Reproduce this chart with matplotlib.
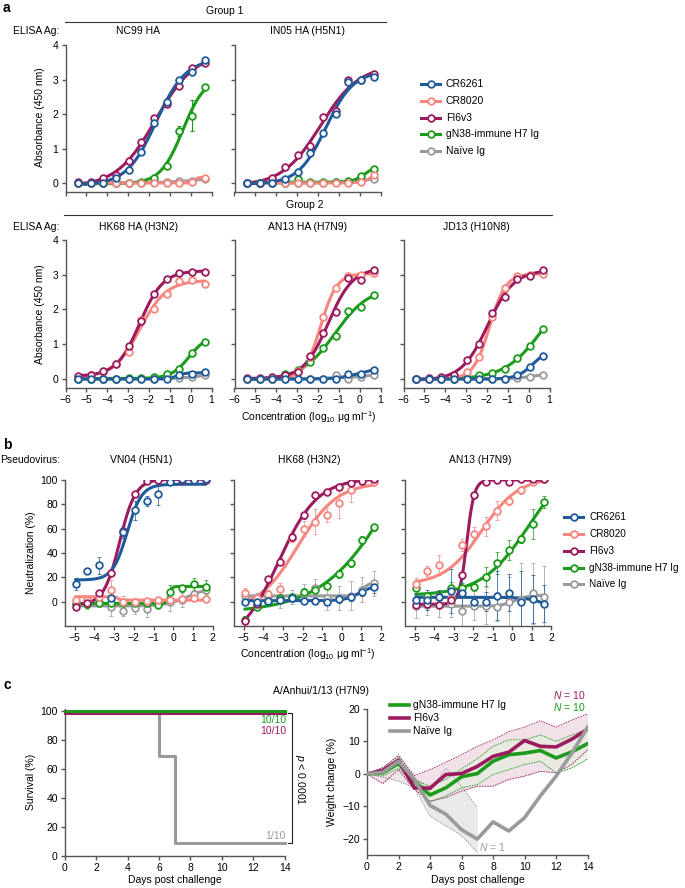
import numpy as np
import matplotlib
matplotlib.use('Agg')
import matplotlib.pyplot as plt
from matplotlib.lines import Line2D

plt.rcParams['font.family'] = ['Liberation Sans', 'DejaVu Sans']
plt.rcParams['mathtext.fontset'] = 'custom'
plt.rcParams['mathtext.rm'] = 'Liberation Sans'
plt.rcParams['mathtext.it'] = 'Liberation Sans:italic'
plt.rcParams['font.size'] = 7.5

# ---------------- data ----------------
SERIES = ['CR6261', 'CR8020', 'FI6v3', 'gN38-immune H7 Ig', 'Naïve Ig']
COLORS = {'CR6261': '#1f5b9b', 'CR8020': '#f7867f', 'FI6v3': '#9b1b5e',
          'gN38-immune H7 Ig': '#1b9a1b', 'Naïve Ig': '#9a9a9a'}
DRAW_ORDER = ['Naïve Ig', 'gN38-immune H7 Ig', 'CR8020', 'FI6v3', 'CR6261']

# Panel a: ELISA (log10 ug/ml)
A_X = [-5.4, -4.79, -4.18, -3.58, -2.97, -2.36, -1.75, -1.14, -0.54, 0.07, 0.68]
NC99 = {'CR6261': [0, 0, 0, 0.15, 0.39, 0.9, 1.75, 2.36, 2.99, 3.21, 3.57],
        'CR8020': [0, 0, 0, 0, 0, 0, 0, 0, 0, 0.03, 0.16],
        'FI6v3': [0.02, 0.02, 0.14, 0.24, 0.64, 1.2, 1.88, 2.29, 2.8, 3.34, 3.49],
        'gN38-immune H7 Ig': [0, 0, 0, 0, 0.01, 0.02, 0.15, 0.48, 1.51, 1.95, 2.78],
        'Naïve Ig': [0, 0, 0, 0, 0, 0.01, 0.02, 0.03, 0.05, 0.07, 0.12]}
NC99_GN38_ERR = [0, 0, 0, 0, 0, 0, 0, 0, 0.15, 0.45, 0]
IN05 = {'CR6261': [0, 0, 0, 0.12, 0.31, 0.87, 1.44, 1.99, 2.92, 3.0, 3.08],
        'CR8020': [0, 0, 0, 0, 0, 0, 0, 0, 0.01, 0.04, 0.23],
        'FI6v3': [0, 0, 0.16, 0.46, 0.81, 1.06, 1.92, 2.1, 3.0, 3.0, 3.16],
        'gN38-immune H7 Ig': [0, 0, 0, 0, 0.12, 0.02, 0.02, 0.03, 0.05, 0.19, 0.42],
        'Naïve Ig': [0, 0, 0, 0, 0, 0.01, 0.01, 0.02, 0.04, 0.07, 0.12]}
HK68A = {'CR6261': [0, 0, 0, 0, 0, 0, 0, 0, 0.12, 0.14, 0.21],
         'CR8020': [0.07, 0.12, 0.21, 0.43, 0.77, 1.7, 2.01, 2.44, 2.82, 2.85, 2.74],
         'FI6v3': [0.08, 0.12, 0.23, 0.42, 0.96, 1.67, 2.45, 2.87, 3.05, 3.08, 3.07],
         'gN38-immune H7 Ig': [0, 0, 0, 0, 0.02, 0.03, 0.07, 0.14, 0.29, 0.76, 1.07],
         'Naïve Ig': [0, 0, 0, 0, 0, 0, 0.01, 0.02, 0.03, 0.05, 0.11]}
AN13A = {'CR6261': [0, 0, 0, 0, 0, 0, 0, 0, 0.13, 0.15, 0.27],
         'CR8020': [0, 0, 0, 0.02, 0.23, 0.64, 1.77, 2.63, 2.95, 3.0, 3.04],
         'FI6v3': [0.02, 0.02, 0.05, 0.1, 0.2, 0.67, 1.32, 1.92, 2.92, 2.85, 3.15],
         'gN38-immune H7 Ig': [0, 0, 0, 0.13, 0.26, 0.48, 0.88, 1.25, 1.96, 2.07, 2.43],
         'Naïve Ig': [0, 0, 0, 0, 0, 0, 0, 0.1, 0.0, 0.07, 0.12]}
JD13 = {'CR6261': [0, 0, 0, 0, 0, 0, 0, 0, 0.12, 0.35, 0.67],
        'CR8020': [0, 0, 0, 0.02, 0.21, 0.63, 1.77, 2.61, 2.95, 3.0, 3.03],
        'FI6v3': [0, 0.02, 0.05, 0.1, 0.55, 1.0, 1.91, 2.37, 2.87, 2.95, 3.15],
        'gN38-immune H7 Ig': [0, 0, 0, 0, 0.03, 0.1, 0.18, 0.3, 0.6, 0.95, 1.43],
        'Naïve Ig': [0, 0, 0, 0, 0, 0, 0, 0.01, 0.03, 0.07, 0.12]}

# Panel b: pseudovirus neutralization (%)
B_X = [-4.95, -4.35, -3.75, -3.15, -2.55, -1.95, -1.35, -0.75, -0.15, 0.45, 1.05, 1.65]
VN04 = {'CR6261': [14.2, 25.5, 30, 3, 57, 75, 82.7, 88.5, 98.6, 100.5, 100, 100.5],
        'CR8020': [1.4, 1.4, 4, 9.6, 0, 0, 0.5, 1.4, 1.4, 2.2, 2.7, 2],
        'FI6v3': [-4, -1, 7, 23.3, 58.4, 88.5, 99.2, 100, 99.7, 100, 100, 100],
        'gN38-immune H7 Ig': [-2, -2, -1, -1, -1, -1, -1, -2.5, 7.8, 11.1, 14.4, 12],
        'Naïve Ig': [-2, -1, 0, -4, -7.4, -5.5, -6.3, -1, 0, 1.4, 6.4, 9.2]}
VN04_ERR = {'CR6261': [5, 2, 7, 6, 5, 8, 4, 9, 2, 2, 2, 2],
            'CR8020': [2, 2, 3, 8, 5, 3, 2, 2, 2, 2, 2, 2],
            'FI6v3': [2, 2, 2, 2, 2, 2, 2, 2, 2, 2, 2, 2],
            'gN38-immune H7 Ig': [2, 3, 2, 2, 2, 2, 2, 2, 6, 3, 5, 6],
            'Naïve Ig': [3, 5, 4, 8, 4, 5, 6, 4, 8, 6, 6, 5]}
HK68B = {'CR6261': [0, 0, 0.8, 1.4, 2.7, 0.8, 0.8, 0, 1.9, 3.6, 8.3, 12],
         'CR8020': [7.4, 3, 6, 10.4, 52, 60, 65.8, 71.2, 80.8, 91.8, 99, 98],
         'FI6v3': [-16, -2, 18.4, 32.9, 53.5, 71, 87.7, 90.4, 94.5, 97.8, 99, 100.5],
         'gN38-immune H7 Ig': [-15, -4, 0, 2.7, 4, 8.2, 9.5, 12.9, 22.7, 31.5, 50.7, 61],
         'Naïve Ig': [5, 3, 4, 3, 4, 6.3, 11, 3, 3, 5, 10, 15]}
HK68B_ERR = {'CR6261': [3, 2, 2, 2, 3, 2, 2, 2, 3, 3, 4, 5],
             'CR8020': [4, 2, 2, 5, 3, 6, 10, 6, 12, 10, 3, 2],
             'FI6v3': [4, 2, 3, 3, 3, 3, 2, 2, 2, 2, 2, 2],
             'gN38-immune H7 Ig': [3, 2, 2, 2, 2, 3, 2, 2, 3, 3, 3, 3],
             'Naïve Ig': [4, 4, 6, 8, 6, 8, 8, 10, 10, 12, 10, 10]}
AN13B = {'CR6261': [1, 1.5, 4, 9, 6.8, -0.5, 0, 5, 7.5, 0, 2.2, -1.6],
         'CR8020': [14.2, 25.5, 30, 3, 46.6, 56, 62, 74.8, 82.7, 91.8, 98.6, 100.5],
         'FI6v3': [-3, -2, -3, 1.4, 22, 87.7, 98.6, 100, 98.6, 100.5, 101, 100.5],
         'gN38-immune H7 Ig': [11, 5, 4, 11, 11, 12.3, 20.5, 32, 42.5, 51.5, 63.8, 82.2],
         'Naïve Ig': [-3.3, -3, -3, -2.2, -7.4, -3.3, -3.3, -4, 0, 1.4, 6.8, 4]}
AN13B_ERR = {'CR6261': [5, 8, 6, 18, 12, 5, 8, 20, 15, 25, 20, 15],
             'CR8020': [5, 4, 8, 3, 5, 5, 8, 8, 3, 3, 2, 2],
             'FI6v3': [2, 2, 2, 2, 2, 2, 2, 2, 2, 2, 2, 2],
             'gN38-immune H7 Ig': [2, 3, 3, 5, 4, 3, 8, 9, 8, 3, 12, 5],
             'Naïve Ig': [10, 8, 10, 10, 15, 12, 15, 12, 20, 30, 25, 25]}

# Panel c: survival and weight change
SURV_DAYS = [0, 6, 7, 14]
SURV_NAIVE = [98.5, 69, 9, 9]
SURV_FI6V3 = [98.5, 98.5, 98.5, 98.5]
SURV_GN38 = [100, 100, 100, 100]
DAYS = list(range(15))
W_GN38 = [0, 0.3, 3.2, -2.2, -6.5, -4.3, -0.9, 0.1, 3.9, 5.9, 6.4, 7.2, 4.9, 6.8, 9.3]
W_GN38_HI = [0, 1, 4.9, -1.7, -3.8, -1.7, 1.5, 4.7, 8.5, 10.5, 10.5, 12, 10, 12, 13.8]
W_GN38_LO = [0, -0.7, 1.8, -3.3, -8.7, -6.8, -4.3, -3.3, -0.2, 1.3, 2.9, 3.9, 0.3, 1.8, 4.6]
W_FI6V3 = [0, 1.1, 4.2, -4.3, -4.4, -0.2, 0.1, 2.3, 5.4, 6.7, 10.3, 8.5, 8.3, 10.7, 13.8]
W_FI6V3_HI = [0, 2, 5.5, -0.5, 1.3, 3.6, 5.9, 8.5, 10.5, 13, 14.4, 16.4, 14.4, 16.6, 18.5]
W_FI6V3_LO = [0, -3, 1.3, -4.8, -8.4, -7.3, -5.3, -3.8, -3.8, -1.7, -0.7, 0.8, 0.3, 2.9, 7.4]
W_NAIVE = [0, 0.5, 3.9, -1.7, -9.7, -12.4, -17.2, -20.1, -14.8, -17.6, -13.5, -6.8, -0.7, 6.4, 14.4]
BAND_DAYS_NAIVE = [0, 1, 2, 3, 4, 5, 6, 7]
W_NAIVE_HI = [0, 1.5, 6, -1, -5.3, 1.8, -3.8, -10.4]
W_NAIVE_LO = [0, -1, -2.2, -4.3, -13, -16, -19, -24.2]

# ---------------- helpers ----------------
W, H = 685, 888
fig = plt.figure(figsize=(W / 100, H / 100), dpi=100)


def add_ax(x0, y0, x1, y1):
    return fig.add_axes([x0 / W, 1 - y1 / H, (x1 - x0) / W, (y1 - y0) / H])


def ftext(x, y, s, **kw):
    kw.setdefault('va', 'center')
    kw.setdefault('fontsize', 7.5)
    return fig.text(x / W, 1 - y / H, s, **kw)


def style(ax):
    for s in ['top', 'right']:
        ax.spines[s].set_visible(False)
    for s in ['left', 'bottom']:
        ax.spines[s].set_color('#555555')
        ax.spines[s].set_linewidth(1.0)
    ax.tick_params(direction='out', length=3, width=1.0, color='#555555',
                   labelsize=7.5, pad=2)


def f4(x, p):
    b, t, c, h = p
    return b + (t - b) / (1 + 10 ** ((c - x) * h))


def fit4(x, y):
    x = np.asarray(x, float)
    y = np.asarray(y, float)
    b0 = y[:3].mean()
    t0 = y[-2:].mean()
    mid = (b0 + t0) / 2
    c0 = x[np.argmin(np.abs(y - mid))]
    p = np.array([b0, t0 + 0.1 * (t0 - b0), c0, 1.0])
    lam = 1e-2
    for _ in range(400):
        r = y - f4(x, p)
        sse = r @ r
        J = np.empty((len(x), 4))
        for j in range(4):
            d = 1e-5 * max(1.0, abs(p[j]))
            dp = np.zeros(4)
            dp[j] = d
            J[:, j] = (f4(x, p + dp) - f4(x, p - dp)) / (2 * d)
        A = J.T @ J
        g = J.T @ r
        try:
            step = np.linalg.solve(A + lam * np.diag(np.diag(A) + 1e-9), g)
        except np.linalg.LinAlgError:
            break
        pn = p + step
        pn[3] = np.clip(pn[3], 0.2, 6)
        pn[2] = np.clip(pn[2], -8, 3)
        rn = y - f4(x, pn)
        if rn @ rn < sse:
            p = pn
            lam *= 0.3
        else:
            lam *= 10
        if lam > 1e8:
            break
    return p


def draw_series(ax, x, data, err=None, curve_lw=2.2):
    for name in DRAW_ORDER:
        c = COLORS[name]
        y = data[name]
        p = fit4(x, y)
        xs = np.linspace(x[0], x[-1], 200)
        ax.plot(xs, f4(xs, p), color=c, lw=curve_lw, solid_capstyle='round', zorder=2)
        if err is not None and name in err:
            ax.errorbar(x, y, yerr=err[name], fmt='none', ecolor=c, elinewidth=0.7,
                        capsize=1.5, capthick=0.7, alpha=0.75, zorder=2.5)
        ax.plot(x, y, 'o', ms=4.8, mfc='white', mec=c, mew=1.3, zorder=3)


# ---------------- panel a ----------------
ftext(3, 8, 'a', fontsize=10, fontweight='bold')
ftext(225, 11, 'Group 1', ha='center')
fig.add_artist(Line2D([65 / W, 386 / W], [1 - 22 / H, 1 - 22 / H], color='#333333', lw=0.8))
ftext(13, 31.5, 'ELISA Ag:')
ftext(305, 205, 'Group 2', ha='center')
fig.add_artist(Line2D([64 / W, 552 / W], [1 - 215.5 / H, 1 - 215.5 / H], color='#333333', lw=0.8))
ftext(13, 227, 'ELISA Ag:')

cols = [(65.5, 211.5), (234.5, 380.5), (403.5, 549.5)]
a_panels = [
    (0, 0, 'NC99 HA', NC99),
    (0, 1, 'IN05 HA (H5N1)', IN05),
    (1, 0, 'HK68 HA (H3N2)', HK68A),
    (1, 1, 'AN13 HA (H7N9)', AN13A),
    (1, 2, 'JD13 (H10N8)', JD13),
]
rows = [(45, 192, 31.5), (240, 388, 227)]
for r, cidx, title, data in a_panels:
    x0, x1 = cols[cidx]
    y0, y1, ty = rows[r]
    ax = add_ax(x0, y0, x1, y1)
    style(ax)
    ax.set_xlim(-6, 1)
    ax.set_ylim(-0.26, 4)
    ax.set_xticks(range(-6, 2))
    ax.set_yticks(range(0, 5))
    if r == 0:
        ax.tick_params(labelbottom=False)
    if cidx != 0:
        ax.tick_params(labelleft=False)
    draw_series(ax, A_X, data)
    if title == 'NC99 HA':
        c = COLORS['gN38-immune H7 Ig']
        ax.errorbar(A_X, data['gN38-immune H7 Ig'], yerr=NC99_GN38_ERR, fmt='none',
                    ecolor=c, elinewidth=0.8, capsize=1.5, capthick=0.8, zorder=2.5)
    ftext((x0 + x1) / 2, ty, title, ha='center')

ftext(40, 117, 'Absorbance (450 nm)', rotation=90, ha='center')
ftext(40, 314, 'Absorbance (450 nm)', rotation=90, ha='center')
ftext(309, 417, 'Concentration (log$_{10}$ μg ml$^{-1}$)', ha='center')

LEG_C = ['gN38-immune H7 Ig', 'FI6v3', 'Naïve Ig']


def legend_block(names, xl0, xl1, xt, ys, markers=True, lw=2.2, fs=7.5):
    for name, yy in zip(names, ys):
        c = COLORS[name]
        yf = 1 - yy / H
        fig.add_artist(Line2D([xl0 / W, xl1 / W], [yf, yf], color=c, lw=lw))
        if markers:
            fig.add_artist(Line2D([(xl0 + xl1) / 2 / W], [yf], marker='o', ms=4.8,
                                  mfc='white', mec=c, mew=1.3, lw=0))
        ftext(xt, yy, name, fontsize=fs)


legend_block(SERIES, 421, 440, 446, [84, 101, 117.5, 134, 151])

# ---------------- panel b ----------------
ftext(3, 445, 'b', fontsize=10, fontweight='bold')
ftext(0, 459.5, 'Pseudovirus:')
bcols = [(64.7, 212.7), (234, 381), (405, 551)]
b_panels = [('VN04 (H5N1)', VN04, VN04_ERR), ('HK68 (H3N2)', HK68B, HK68B_ERR),
            ('AN13 (H7N9)', AN13B, AN13B_ERR)]
for i, (title, data, err) in enumerate(b_panels):
    x0, x1 = bcols[i]
    ax = add_ax(x0, 480, x1, 626)
    style(ax)
    ax.set_xlim(-5.5, 2.0)
    ax.set_ylim(-20, 100)
    ax.set_xticks(range(-5, 3))
    ax.set_yticks(range(0, 101, 20))
    if i != 0:
        ax.tick_params(labelleft=False)
    draw_series(ax, B_X, data, err)
    ftext((x0 + x1) / 2 + 2, 459.5, title, ha='center')
ftext(31, 553, 'Neutralization (%)', rotation=90, ha='center')
ftext(308, 654, 'Concentration (log$_{10}$ μg ml$^{-1}$)', ha='center')
legend_block(SERIES, 564, 583, 589, [517, 534, 551, 568, 584], fs=7.2)

# ---------------- panel c ----------------
ftext(3, 685, 'c', fontsize=10, fontweight='bold')
ftext(321, 691, 'A/Anhui/1/13 (H7N9)', ha='center')

axs = add_ax(64.7, 709, 284.8, 856)
style(axs)
axs.set_xlim(0, 14)
axs.set_ylim(0, 101.5)
axs.set_xticks(range(0, 15, 2))
axs.set_yticks(range(0, 101, 20))
axs.step(SURV_DAYS, SURV_NAIVE, where='post', color=COLORS['Naïve Ig'], lw=2.2, clip_on=False)
axs.step(SURV_DAYS, SURV_FI6V3, where='post', color=COLORS['FI6v3'], lw=2.2, clip_on=False)
axs.step(SURV_DAYS, SURV_GN38, where='post', color=COLORS['gN38-immune H7 Ig'], lw=2.2, clip_on=False)
axs.text(14.08, 93.8, '10/10', color=COLORS['gN38-immune H7 Ig'], ha='right', va='center', fontsize=7.5)
axs.text(14.08, 86.2, '10/10', color=COLORS['FI6v3'], ha='right', va='center', fontsize=7.5)
axs.text(14.08, 13.8, '1/10', color=COLORS['Naïve Ig'], ha='right', va='center', fontsize=7.5)
axs.plot([14.2, 14.46, 14.46, 14.2], [98.5, 98.5, 9, 9], color='#222222', lw=0.8, clip_on=False)
axs.text(14.95, 53, '$\\it{p}$ < 0.0001', rotation=270, ha='center', va='center', fontsize=7.5)
ftext(30.5, 782, 'Survival (%)', rotation=90, ha='center')
ftext(175, 880, 'Days post challenge', ha='center')

axw = add_ax(367, 709, 587.6, 855)
style(axw)
axw.set_xlim(0, 14)
axw.set_ylim(-25, 20)
axw.set_xticks(range(0, 15, 2))
axw.set_yticks([-20, -10, 0, 10, 20])
cg, cm, cn = COLORS['gN38-immune H7 Ig'], COLORS['FI6v3'], COLORS['Naïve Ig']
axw.fill_between(BAND_DAYS_NAIVE, W_NAIVE_LO, W_NAIVE_HI, color='#e9e9e9', lw=0, zorder=1)
axw.fill_between(DAYS, W_FI6V3_LO, W_FI6V3_HI, color='#f1dce7', lw=0, alpha=0.85, zorder=1)
axw.fill_between(DAYS, W_GN38_LO, W_GN38_HI, color='#e3f0dc', lw=0, alpha=0.6, zorder=1)
for lo, hi, c, d in [(W_NAIVE_LO, W_NAIVE_HI, cn, BAND_DAYS_NAIVE),
                     (W_FI6V3_LO, W_FI6V3_HI, cm, DAYS),
                     (W_GN38_LO, W_GN38_HI, cg, DAYS)]:
    axw.plot(d, lo, color=c, lw=0.6, ls=(0, (2, 1.2)), zorder=2)
    axw.plot(d, hi, color=c, lw=0.6, ls=(0, (2, 1.2)), zorder=2)
axw.plot(DAYS, W_GN38, color=cg, lw=2.6, zorder=3)
axw.plot(DAYS, W_FI6V3, color=cm, lw=2.6, zorder=4)
axw.plot(DAYS, W_NAIVE, color=cn, lw=2.6, zorder=5)
axw.text(13.84, 24.4, '$\\it{N}$ = 10', color=cm, ha='right', va='center', fontsize=7.5, clip_on=False)
axw.text(13.84, 20.6, '$\\it{N}$ = 10', color=cg, ha='right', va='center', fontsize=7.5, clip_on=False)
axw.text(7.1, -22.4, '$\\it{N}$ = 1', color=cn, ha='left', va='center', fontsize=7.5)
ftext(332, 782, 'Weight change (%)', rotation=90, ha='center')
ftext(478, 880, 'Days post challenge', ha='center')
legend_block(LEG_C, 390, 408.5, 413, [705, 718, 731], markers=False, lw=2.6)

fig.savefig('out.png', dpi=100)
